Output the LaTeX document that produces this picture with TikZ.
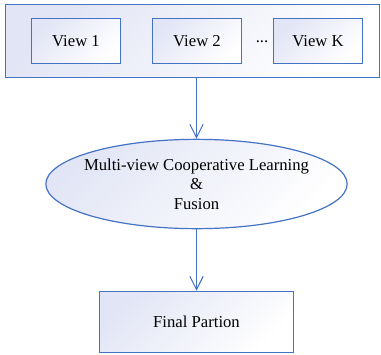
\documentclass[tikz,border=0pt]{standalone}
\usepackage{fontspec}
\setmainfont{Liberation Serif}
\usetikzlibrary{shapes.geometric,arrows.meta}
\definecolor{boxblue}{HTML}{4472C4}
\definecolor{boxfill}{HTML}{E2E5F5}
\tikzset{
  shadedfill/.style={draw=boxblue, line width=0.9pt, top color=boxfill, bottom color=white, shading angle=45},
  viewbox/.style={shadedfill, minimum width=67pt, minimum height=34pt, inner sep=0pt},
  flowarrow/.style={-{Straight Barb[length=10pt,width=10pt,line width=0.8pt]}, draw=boxblue, line width=1pt}
}
\begin{document}
\begin{tikzpicture}[x=0.75pt, y=-0.75pt, font=\fontsize{12.5}{14.5}\selectfont]
\useasboundingbox (0,0) rectangle (381,354);
\node [shadedfill, minimum width=281pt, minimum height=55pt, inner sep=0pt] (views) at (192.5,41) {};
\node [viewbox] (view1) at (76,41) {View 1};
\node [viewbox] (view2) at (197,41) {View 2};
\node (dots) at (262,42) {...};
\node [viewbox] (viewk) at (318,41) {View K};
\node [shadedfill, ellipse, minimum width=226pt, minimum height=67pt, inner xsep=-9pt, inner ysep=0pt, align=center] (fusion) at (196.5,184) {Multi-view Cooperative Learning\\\&\\Fusion};
\node [shadedfill, minimum width=146pt, minimum height=46pt, inner sep=0pt] (final) at (196.5,322) {Final Partion};
\draw [flowarrow] (views.south -| fusion.north) -- (fusion.north);
\draw [flowarrow] (fusion.south) -- (final.north);
\end{tikzpicture}
\end{document}
